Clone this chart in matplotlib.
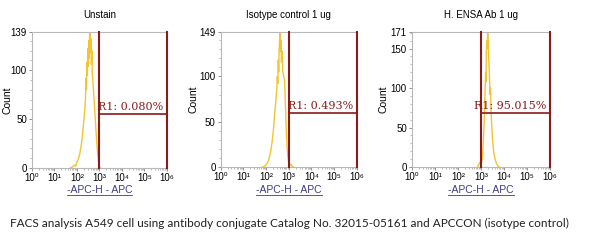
import numpy as np
import matplotlib
matplotlib.use('Agg')
import matplotlib.pyplot as plt
from matplotlib.ticker import FixedLocator, LogLocator, NullFormatter, MultipleLocator

# panel titles, y maxima and gate results
titles = ['Unstain', 'Isotype control 1 ug', 'H. ENSA Ab 1 ug']
y_max = [139, 149, 171]
y_ticks = [[0, 50, 100, 139], [0, 50, 100, 149], [0, 50, 100, 150, 171]]
gate_lo = [3, 3, 3]          # decade of left gate edge
gate_hi = [6, 6, 6]          # decade of right gate edge
gate_y = [55, 60, 68]
gate_pct = ['R1: 0.080%', 'R1: 0.493%', 'R1: 95.015%']
x_decades = [0, 1, 2, 3, 4, 5, 6]

# histograms: log10(APC) vs count
h1_dec = [1.70, 1.80, 1.88, 1.95, 2.00, 2.06, 2.12, 2.18, 2.24, 2.29, 2.34, 2.38,
          2.40, 2.42, 2.44, 2.46, 2.48, 2.50, 2.52, 2.54, 2.56, 2.58, 2.60, 2.62,
          2.64, 2.66, 2.68, 2.72, 2.76, 2.80, 2.84, 2.88, 2.92, 2.96, 3.00, 3.05]
h1_cnt = [0, 1, 3, 2, 6, 9, 14, 22, 33, 45, 58, 72,
          92, 80, 108, 95, 122, 104, 130, 112, 136, 139, 118, 132,
          106, 120, 96, 85, 70, 55, 40, 26, 14, 6, 1, 0]

h2_dec = [1.85, 1.95, 2.05, 2.12, 2.20, 2.27, 2.33, 2.38, 2.43, 2.47, 2.50, 2.52,
          2.54, 2.56, 2.58, 2.60, 2.62, 2.64, 2.66, 2.68, 2.71, 2.74, 2.78, 2.82,
          2.84, 2.86, 2.88, 2.90, 2.93, 2.96, 3.00, 3.05, 3.10, 3.15, 3.20]
h2_cnt = [0, 1, 4, 8, 16, 28, 42, 58, 72, 85, 100, 92,
          118, 105, 130, 140, 149, 128, 140, 116, 128, 105, 100, 96,
          80, 65, 50, 36, 22, 12, 5, 2, 3, 1, 0]

h3_dec = [2.85, 2.90, 2.95, 3.00, 3.05, 3.08, 3.11, 3.14, 3.17, 3.20, 3.22, 3.23,
          3.25, 3.27, 3.29, 3.31, 3.33, 3.35, 3.37, 3.39, 3.41, 3.43, 3.46, 3.50,
          3.54, 3.58, 3.63, 3.68, 3.74, 3.80]
h3_cnt = [0, 3, 6, 4, 9, 20, 38, 60, 90, 120, 108, 145,
          160, 150, 171, 158, 140, 128, 112, 92, 100, 78, 55, 35,
          22, 14, 8, 4, 1, 0]

hist_dec = [h1_dec, h2_dec, h3_dec]
hist_cnt = [h1_cnt, h2_cnt, h3_cnt]

caption = ('FACS analysis A549 cell using antibody conjugate Catalog No. '
           '32015-05161 and APCCON (isotype control)')

gate_col = '#8b1a1a'
hist_col = '#f2c430'
spine_col = '#b8b8b8'
label_col = '#3c3c88'
sup = '⁰¹²³⁴⁵⁶'

fig = plt.figure(figsize=(6.0, 2.45), dpi=100)

ax_rects = [[0.0533, 0.3143, 0.225, 0.555],
            [0.3678, 0.3184, 0.2267, 0.551],
            [0.6867, 0.3184, 0.230, 0.551]]
ylab_x = [-0.145, -0.165, -0.168]

for i in range(3):
    ax = fig.add_axes(ax_rects[i])
    ax.set_xscale('log')
    ax.set_xlim(1, 1e6)
    ax.set_ylim(0, y_max[i])

    x = 10 ** np.array(hist_dec[i])
    ax.plot(x, hist_cnt[i], color=hist_col, lw=1.0, zorder=2)

    lo, hi = 10 ** gate_lo[i], 10 ** gate_hi[i]
    ax.plot([lo, lo], [0, y_max[i]], color=gate_col, lw=1.5, zorder=3, clip_on=False)
    ax.plot([hi, hi], [0, y_max[i]], color=gate_col, lw=1.5, zorder=3, clip_on=False)
    ax.plot([lo, hi], [gate_y[i], gate_y[i]], color=gate_col, lw=1.2, zorder=3)
    ax.annotate(gate_pct[i], xy=(hi, gate_y[i]), xytext=(-2.5, 1.5),
                textcoords='offset points', color=gate_col, fontsize=8,
                family='DejaVu Serif', ha='right', va='bottom', zorder=4)

    ax.set_title(titles[i], fontsize=7, family='Liberation Sans', pad=10)
    ax.set_ylabel('Count', fontsize=7.5, family='Liberation Sans')
    ax.yaxis.set_label_coords(ylab_x[i], 0.5)

    ax.yaxis.set_major_locator(FixedLocator(y_ticks[i]))
    ax.yaxis.set_minor_locator(MultipleLocator(10))
    ax.set_yticklabels([str(t) for t in y_ticks[i]])
    ax.xaxis.set_major_locator(FixedLocator([10.0 ** k for k in x_decades]))
    ax.set_xticklabels(['10' + sup[k] for k in x_decades])
    ax.xaxis.set_minor_locator(LogLocator(base=10, subs=np.arange(2, 10), numticks=20))
    ax.xaxis.set_minor_formatter(NullFormatter())

    ax.tick_params(axis='both', which='major', labelsize=7, length=2.5,
                   width=0.6, color='#808080', pad=1.2)
    ax.tick_params(axis='both', which='minor', length=1.5, width=0.5, color='#a0a0a0')
    for lab in ax.get_xticklabels() + ax.get_yticklabels():
        lab.set_family(['Liberation Sans', 'DejaVu Sans'])

    for s in ax.spines.values():
        s.set_color(spine_col)
        s.set_linewidth(0.8)
    ax.spines['right'].set_visible(False)

    # underlined axis label below the ticks
    cx = ax_rects[i][0] + ax_rects[i][2] / 2
    t = fig.text(cx, 1 - 190 / 245, '-APC-H - APC', fontsize=7.5,
                 family='Liberation Sans', color=label_col, ha='center', va='center')
    fig.canvas.draw()
    bb = t.get_window_extent().transformed(fig.transFigure.inverted())
    fig.add_artist(plt.Line2D([bb.x0, bb.x1], [bb.y0 + 0.002, bb.y0 + 0.002],
                              color=label_col, lw=0.6, transform=fig.transFigure))

fig.text(10 / 600, 1 - 223 / 245, caption, fontsize=8.45, family='Lato',
         ha='left', va='center', color='#202020')

fig.savefig('out.png', dpi=100, facecolor='white')
